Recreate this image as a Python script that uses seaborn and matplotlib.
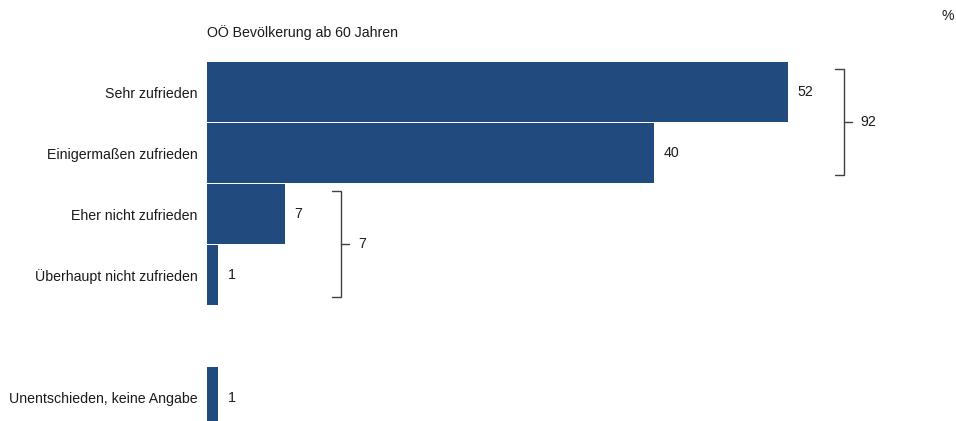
import matplotlib
matplotlib.use("Agg")
import matplotlib.pyplot as plt
import seaborn as sns
import pandas as pd

categories = [
    "Sehr zufrieden",
    "Einigermaßen zufrieden",
    "Eher nicht zufrieden",
    "Überhaupt nicht zufrieden",
    "Unentschieden, keine Angabe",
]
values = [52, 40, 7, 1, 1]
# bracket totals: (first row, last row, total)
brackets = [(0, 1, 92), (2, 3, 7)]
subtitle = "OÖ Bevölkerung ab 60 Jahren"
unit = "%"

sns.set_theme(style="white")
plt.rcParams["font.family"] = ["Liberation Sans", "DejaVu Sans"]
FS = 10.2

# rows 0-3 form the rating block, a blank row separates the last category
positions = [0, 1, 2, 3, 5]
df = pd.DataFrame({"cat": categories, "val": values, "pos": positions})

W, H = 956, 421
fig = plt.figure(figsize=(W / 100, H / 100), dpi=100)
left_px = 207
px_per_unit = 11.17
ax_w_px = W - left_px
ax = fig.add_axes([left_px / W, 0, ax_w_px / W, 1])

bar_color = "#214a7e"
sns.barplot(data=df, x="val", y="pos", orient="y", native_scale=True,
            color=bar_color, saturation=1, width=0.984, linewidth=0, ax=ax)

ax.set_xlim(0, ax_w_px / px_per_unit)
ax.set_ylim(5.385, -1.515)
ax.set_yticks(positions)
ax.set_yticklabels(categories, fontsize=FS, color="#1a1a1a")
ax.tick_params(axis="y", length=0, pad=7)
ax.set_xticks([])
ax.set_xlabel("")
ax.set_ylabel("")
for s in ax.spines.values():
    s.set_visible(False)

# value labels at bar ends
for v, p in zip(values, positions):
    ax.text(v + 0.85, p, f"{v}", va="center", ha="left", fontsize=FS, color="#1a1a1a")

# brackets summarising row groups
bc = "#404040"
for r0, r1, total in brackets:
    xmax = max(values[r0:r1 + 1])
    xb = xmax + 5.0
    hook = 0.8
    y0 = positions[r0] - 0.385
    y1 = positions[r1] + 0.36
    ym = (y0 + y1) / 2
    ax.plot([xb - hook, xb, xb, xb - hook], [y0, y0, y1, y1], color=bc, lw=1.0,
            solid_joinstyle="miter", clip_on=False)
    ax.plot([xb, xb + 0.7], [ym, ym], color=bc, lw=1.0, clip_on=False)
    ax.text(xb + 1.5, ym, f"{total}", va="center", ha="left", fontsize=FS, color="#1a1a1a")

fig.text(left_px / W, 1 - 33 / H, subtitle, ha="left", va="center", fontsize=FS, color="#1a1a1a")
fig.text(948 / W, 1 - 16 / H, unit, ha="center", va="center", fontsize=FS, color="#1a1a1a")

fig.savefig("out.png", dpi=100)
